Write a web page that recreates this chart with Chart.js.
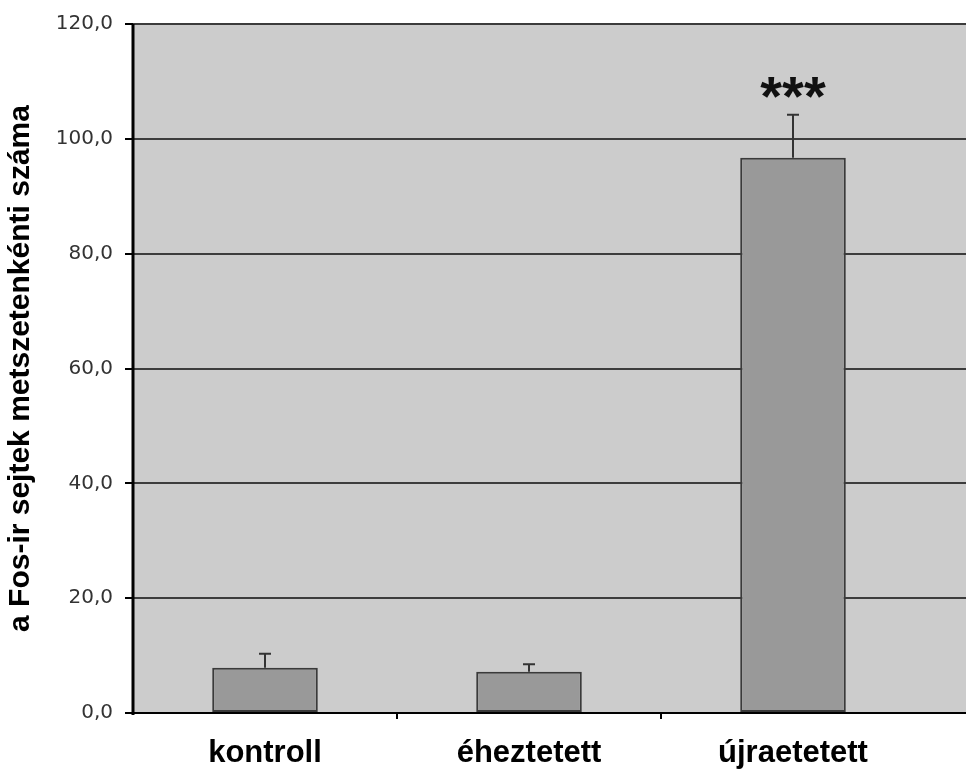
<!DOCTYPE html>
<html>
<head>
<meta charset="utf-8">
<script src="https://cdn.jsdelivr.net/npm/chart.js@4.4.1/dist/chart.umd.min.js"></script>
<style>
  html,body{margin:0;padding:0;background:#fff;}
  #wrap{width:966px;height:770px;position:relative;}
</style>
</head>
<body>
<div id="wrap"><canvas id="c" width="966" height="770"></canvas></div>
<script>
const categories = ['kontroll', 'éheztetett', 'újraetetett'];
const means = [7.9, 7.2, 96.7];
const errors = [2.4, 1.3, 7.5];
const marks = ['', '', '***'];
const yTicks = [0, 20, 40, 60, 80, 100, 120];
const yTitle = 'a Fos-ir sejtek metszetenkénti száma';

const PLOT_BG = '#cccccc';

// gray plot background + grid lines running to the right edge of the picture
const backPlugin = {
  id: 'back',
  beforeDraw: function(ch){
    const a = ch.chartArea, ctx = ch.ctx, y = ch.scales.y;
    ctx.save();
    ctx.fillStyle = PLOT_BG;
    ctx.fillRect(a.left, a.top, ch.width - a.left, a.bottom - a.top);
    ctx.strokeStyle = '#3c3c3c';
    ctx.lineWidth = 2;
    yTicks.forEach(function(v){
      if(v === 0) return;
      const py = Math.round(y.getPixelForValue(v));
      ctx.beginPath(); ctx.moveTo(a.left, py); ctx.lineTo(ch.width, py); ctx.stroke();
    });
    ctx.restore();
  },
  afterDatasetsDraw: function(ch){
    const a = ch.chartArea, ctx = ch.ctx, y = ch.scales.y;
    const meta = ch.getDatasetMeta(0);
    ctx.save();
    // error bars (upper only)
    ctx.strokeStyle = '#333';
    ctx.lineWidth = 2;
    meta.data.forEach(function(bar, i){
      const top = y.getPixelForValue(means[i]);
      const hi = y.getPixelForValue(means[i] + errors[i]);
      ctx.beginPath();
      ctx.moveTo(bar.x, top); ctx.lineTo(bar.x, hi);
      ctx.moveTo(bar.x - 6, hi); ctx.lineTo(bar.x + 6, hi);
      ctx.stroke();
      if(marks[i]){
        ctx.fillStyle = '#111';
        ctx.font = 'bold 56px "Liberation Sans", Arial, sans-serif';
        ctx.textAlign = 'center';
        ctx.textBaseline = 'middle';
        ctx.fillText(marks[i], bar.x, hi - 15);
      }
    });
    // axis lines
    ctx.strokeStyle = '#000';
    ctx.lineWidth = 2;
    ctx.beginPath(); ctx.moveTo(a.left, a.bottom); ctx.lineTo(ch.width, a.bottom); ctx.stroke();
    ctx.lineWidth = 3;
    ctx.beginPath(); ctx.moveTo(a.left, a.top); ctx.lineTo(a.left, a.bottom + 2); ctx.stroke();
    ctx.restore();
  }
};

new Chart(document.getElementById('c'), {
  type: 'bar',
  data: {
    labels: categories,
    datasets: [{
      data: means,
      backgroundColor: '#999999',
      borderColor: '#3a3a3a',
      borderWidth: 2,
      borderSkipped: false,
      categoryPercentage: 1,
      barPercentage: 0.4
    }]
  },
  options: {
    responsive: false,
    animation: false,
    devicePixelRatio: 1,
    layout: {padding: {top: 19, right: 41, left: 0, bottom: 0}},
    plugins: {legend: {display: false}, tooltip: {enabled: false}},
    scales: {
      x: {
        grid: {
          offset: true, drawOnChartArea: false, tickLength: 6, lineWidth: 2,
          color: function(c){ return (c.index === 1 || c.index === 2) ? '#000' : 'rgba(0,0,0,0)'; }
        },
        border: {display: false},
        ticks: {
          color: '#000', padding: 16,
          font: {family: '"Liberation Sans", Arial, sans-serif', size: 31, weight: 'bold'}
        },
        afterFit: function(s){ s.height = 57; }
      },
      y: {
        min: 0, max: 120,
        afterBuildTicks: function(s){ s.ticks = yTicks.map(function(v){ return {value: v}; }); },
        grid: {drawOnChartArea: false, tickLength: 8, lineWidth: 2, color: '#000'},
        border: {display: false},
        ticks: {
          color: '#333', padding: 12,
          font: {family: '"DejaVu Sans", Verdana, sans-serif', size: 20},
          callback: function(v){ return Number(v).toFixed(1).replace('.', ','); }
        },
        title: {
          display: true, text: yTitle, color: '#000', padding: {top: 3, bottom: 0},
          font: {family: '"Liberation Sans", Arial, sans-serif', size: 30, weight: 'bold'}
        },
        afterFit: function(s){ s.width = 133; }
      }
    }
  },
  plugins: [backPlugin]
});
</script>
</body>
</html>
